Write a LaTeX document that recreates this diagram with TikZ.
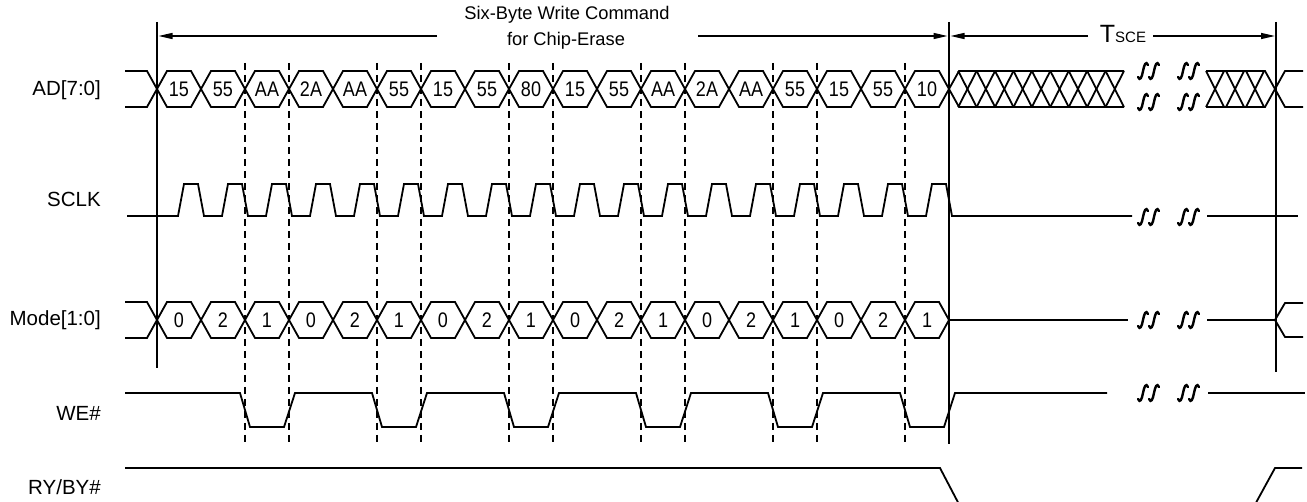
\documentclass[tikz,border=0pt]{standalone}
\usepackage{fontspec}
\usepackage{graphicx}
\setmainfont{Liberation Sans}
\usetikzlibrary{arrows.meta}
\newcommand\tallhex[1]{\scalebox{1}[1.17]{#1}}
\begin{document}
\begin{tikzpicture}[x=1pt,y=-1pt,
  sig/.style={line width=1.8pt, line join=miter},
  guide/.style={line width=1.4pt},
  dashguide/.style={line width=1.4pt, dash pattern=on 7pt off 5pt},
  dimarrow/.style={line width=1.4pt, -{Triangle[length=14pt,width=6pt]}},
  lbl/.style={anchor=base east, inner sep=0pt, font=\fontsize{20.5}{24}\selectfont},
  hexlbl/.style={anchor=base, inner sep=0pt, font=\fontsize{18}{20}\selectfont},
  ttl/.style={anchor=base, inner sep=0pt, font=\fontsize{18.3}{21}\selectfont},
  brk/.pic={\draw[line width=2.4pt, line cap=round]
     (-5,6) .. controls (-3,10.5) and (-1.2,6.5) .. (0,0) .. controls (1.2,-6.5) and (3,-10.5) .. (5,-6);}
]
\useasboundingbox (0,0) rectangle (1307,502);
\clip (0,0) rectangle (1307,502);

% ---- labels
\node[lbl] (lad) at (101,95.5) {AD[7:0]};
\node[lbl] (lsclk) at (101,207) {SCLK};
\node[lbl] (lmode) at (101,326) {Mode[1:0]};
\node[lbl] (lwe) at (101,421) {WE\#};
\node[lbl] (lry) at (101,494) {RY/BY\#};

% ---- title and dimension arrows
\node[ttl] (t1) at (567,20) {Six-Byte Write Command};
\node[ttl] (t2) at (566,46) {for Chip-Erase};
\coordinate (a1l) at (158.5,36);
\coordinate (a1m) at (437,36);
\coordinate (a1n) at (698,36);
\coordinate (a1r) at (947.5,36);
\draw[dimarrow] (a1m) -- (a1l);
\draw[dimarrow] (a1n) -- (a1r);
\node[anchor=base, inner sep=0pt] (tsce) at (1123,42.5)
  {\fontsize{25}{27}\selectfont T\fontsize{15}{17}\selectfont SCE};
\coordinate (a2l) at (950.5,36);
\coordinate (a2m) at (1088,36);
\coordinate (a2n) at (1153,36);
\coordinate (a2r) at (1275,36);
\draw[dimarrow] (a2m) -- (a2l);
\draw[dimarrow] (a2n) -- (a2r);

% ---- solid reference lines
\draw[guide] (157,22) -- (157,368);
\draw[guide] (949,22) -- (949,444);
\draw[guide] (1276,22) -- (1276,372);

% ---- dashed lines
\foreach \k in {2,3,5,6,8,9,11,12,14,15,17}
  \draw[dashguide] ({157+44*\k},63) -- ({157+44*\k},443);

% ---- AD bus (top 71, bottom 107)
\draw[sig] (125,71) -- (147,71) -- (157,89);
\draw[sig] (125,107) -- (147,107) -- (157,89);
\foreach \v [count=\n from 0] in {15,55,AA,2A,AA,55,15,55,80,15,55,AA,2A,AA,55,15,55,10}{
  \pgfmathsetmacro\a{157+44*\n}
  \draw[sig] (\a,89) -- ({\a+10},71) -- ({\a+34},71) -- ({\a+44},89)
     -- ({\a+34},107) -- ({\a+10},107) -- cycle;
  \node[hexlbl] (ad\n) at ({\a+22},96.5) {\tallhex{\v}};
}
\draw[sig] (949,89) -- (959,71) -- (1124,71);
\draw[sig] (949,89) -- (959,107) -- (1124,107);
\foreach \j in {1,...,9}{
  \pgfmathsetmacro\d{949+18.42*\j}
  \draw[sig] ({\d-9.2},71) -- ({\d+9.2},107);
  \draw[sig] ({\d-9.2},107) -- ({\d+9.2},71);
}
\draw[sig] (1206,71) -- (1265,71) -- (1285,107) -- (1303,107);
\draw[sig] (1206,107) -- (1265,107) -- (1285,71) -- (1303,71);
\foreach \d in {1215,1235,1255}{
  \draw[sig] ({\d-9},71) -- ({\d+9},107);
  \draw[sig] ({\d-9},107) -- ({\d+9},71);
}

% ---- SCLK
\draw[sig] (127,216)
  \foreach \k in {0,...,17}{
    -- ({157+44*\k+21},216) -- ({157+44*\k+27},184) -- ({157+44*\k+41},184) -- ({157+44*\k+47},216)
  } -- (1132,216);
\draw[sig] (1207,216) -- (1298,216);

% ---- Mode bus (top 302, bottom 338)
\draw[sig] (125,302) -- (147,302) -- (157,320);
\draw[sig] (125,338) -- (147,338) -- (157,320);
\foreach \v [count=\n from 0] in {0,2,1,0,2,1,0,2,1,0,2,1,0,2,1,0,2,1}{
  \pgfmathsetmacro\a{157+44*\n}
  \draw[sig] (\a,320) -- ({\a+10},302) -- ({\a+34},302) -- ({\a+44},320)
     -- ({\a+34},338) -- ({\a+10},338) -- cycle;
  \node[hexlbl] (md\n) at ({\a+22},327.5) {\tallhex{\v}};
}
\draw[sig] (949,320) -- (1128,320);
\draw[sig] (1207,320) -- (1275,320) -- (1285,303) -- (1303,303);
\draw[sig] (1275,320) -- (1285,337) -- (1303,337);

% ---- WE#
\draw[sig] (125,393)
  \foreach \k in {2,5,8,11,14,17}{
    -- ({157+44*\k-5},393) -- ({157+44*\k+5},427) -- ({157+44*\k+39},427) -- ({157+44*\k+50},393)
  } -- (1107,393);
\draw[sig] (1208,393) -- (1305,393);

% ---- RY/BY#
\draw[sig] (125,468) -- (940,468) -- (962,510);
\draw[sig] (1252,510) -- (1275,468) -- (1302,468);

% ---- break marks
\foreach \yy in {71,102,217,320,393}{
  \pic at (1143,\yy) {brk};
  \pic at (1154,\yy) {brk};
  \pic at (1183,\yy) {brk};
  \pic at (1194,\yy) {brk};
}
\end{tikzpicture}
\end{document}
